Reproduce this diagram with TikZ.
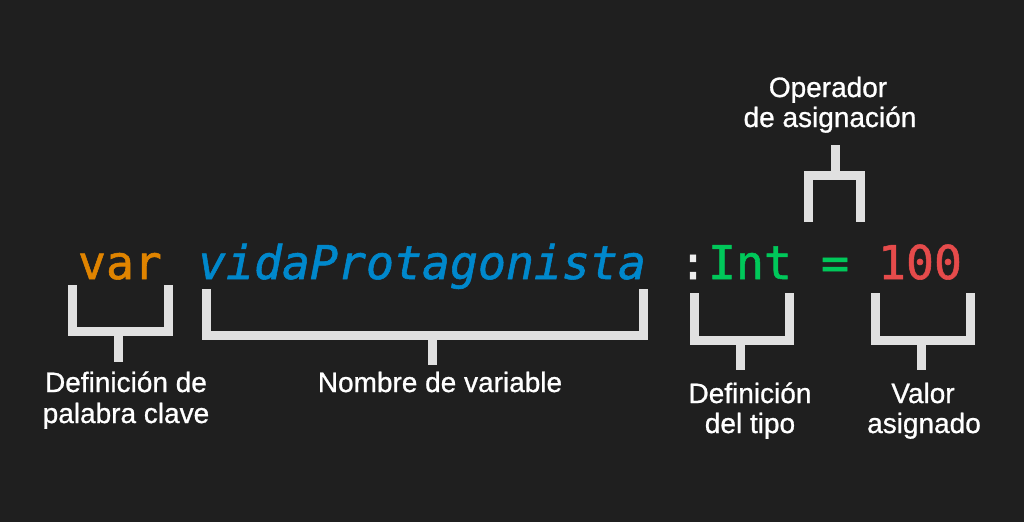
\documentclass[tikz,border=0pt]{standalone}
\usepackage{fontspec}
\setmainfont{Liberation Sans}[FakeBold=0.9]
\newfontfamily\codefont{DejaVu Sans Mono}[FakeBold=1.2]
\definecolor{bg}{HTML}{1F1F1F}
\definecolor{brkgray}{HTML}{E0E0E0}
\definecolor{cOrange}{HTML}{E08400}
\definecolor{cBlue}{HTML}{0088CC}
\definecolor{cGreen}{HTML}{00C85A}
\definecolor{cRed}{HTML}{E64B4B}
\definecolor{cColon}{HTML}{EEEEEE}
\begin{document}
\begin{tikzpicture}[x=1pt,y=-1pt,
  brk/.style={draw=brkgray,line width=9pt,line cap=butt,line join=miter},
  code/.style={inner sep=0pt,anchor=base,font=\codefont\fontsize{46.5}{50}\selectfont},
  lbl/.style={inner sep=0pt,anchor=base,text=white,font=\fontsize{28}{30}\selectfont}]
\fill[bg] (0,0) rectangle (1024,522);
\useasboundingbox (0,0) rectangle (1024,522);
% code line
\node[code,text=cOrange] (kw) at (120,279) {var};
\node[code,text=cBlue] (name) at (422,279) {\itshape vidaProtagonista};
\node[code,text=cColon] (colon) at (693,279) {:};
\node[code,text=cGreen] (type) at (750,279) {Int};
\node[code,text=cGreen] (eq) at (835,279) {=};
\node[code,text=cRed] (val) at (920,279) {100};
% brackets
\coordinate (kwstem) at (118.5,362);
\coordinate (namestem) at (432.5,365);
\coordinate (typestem) at (740,370);
\coordinate (valstem) at (921,370);
\coordinate (opstem) at (835.5,145);
\draw[brk] (72.5,285) -- (72.5,331.5) -- (168.5,331.5) -- (168.5,285);
\draw[brk] (118.5,331.5) -- (kwstem);
\draw[brk] (206.5,289) -- (206.5,335.5) -- (643.5,335.5) -- (643.5,289);
\draw[brk] (432.5,335.5) -- (namestem);
\draw[brk] (694,293) -- (694,340.5) -- (789,340.5) -- (789,293);
\draw[brk] (740,340.5) -- (typestem);
\draw[brk] (875,293) -- (875,340.5) -- (970.5,340.5) -- (970.5,293);
\draw[brk] (921,340.5) -- (valstem);
\draw[brk] (808.5,222) -- (808.5,175.5) -- (860,175.5) -- (860,222);
\draw[brk] (835.5,175.5) -- (opstem);
% labels
\node[lbl] (l1a) at (126,392) {Definición de};
\node[lbl] (l1b) at (126,423) {palabra clave};
\node[lbl] (l2) at (440,392) {Nombre de variable};
\node[lbl] (l3a) at (750,403) {Definición};
\node[lbl] (l3b) at (750,433) {del tipo};
\node[lbl] (l4a) at (923,403) {Valor};
\node[lbl] (l4b) at (924,433) {asignado};
\node[lbl] (l5a) at (828,97) {Operador};
\node[lbl] (l5b) at (830,127) {de asignación};
\end{tikzpicture}
\end{document}
